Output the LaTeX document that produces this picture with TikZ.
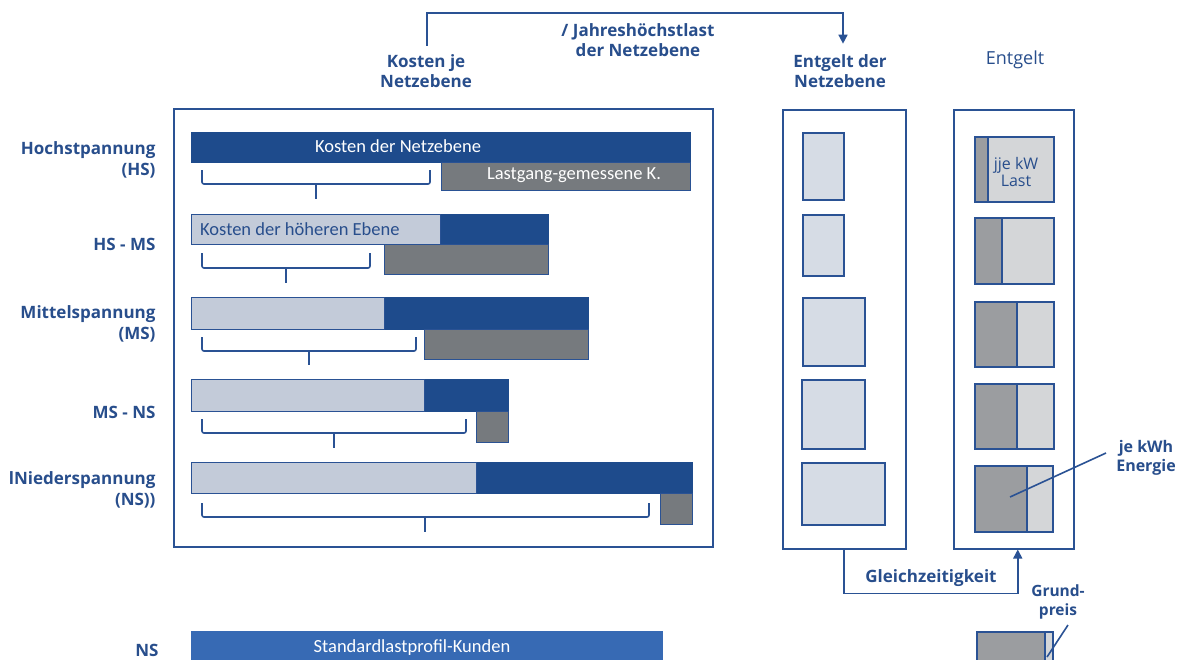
\documentclass[tikz,border=0pt]{standalone}
\usepackage{fontspec}
\setmainfont{Open Sans}
\newfontfamily\barfont{Carlito}
\usetikzlibrary{arrows.meta}
\definecolor{txtblue}{RGB}{40,78,140}
\definecolor{lineblue}{RGB}{42,82,148}
\definecolor{dkblue}{RGB}{30,75,140}
\definecolor{ltbar}{RGB}{195,203,217}
\definecolor{gybar}{RGB}{118,122,126}
\definecolor{midfill}{RGB}{214,220,229}
\definecolor{edark}{RGB}{155,157,160}
\definecolor{elight}{RGB}{212,214,216}
\definecolor{slp}{RGB}{55,106,180}
\tikzset{
  rbox/.style={draw=lineblue, line width=1.2pt, inner sep=0pt, anchor=north west},
  darkbar/.style={rbox, fill=dkblue, draw=dkblue},
  lightbar/.style={rbox, fill=ltbar},
  greybar/.style={rbox, fill=gybar},
  midbox/.style={rbox, fill=midfill, line width=1.6pt},
  edarkbox/.style={rbox, fill=edark, line width=1.6pt},
  elightbox/.style={rbox, fill=elight, line width=1.6pt},
  frame/.style={draw=lineblue, line width=1.5pt, inner sep=0pt, anchor=north west},
  bartext/.style={inner sep=0pt, text=white, font=\barfont\fontsize{18.5}{20}\selectfont},
  lbl/.style={text=txtblue, font=\fontsize{17}{20.5}\selectfont\bfseries, align=center},
  rowlbl/.style={lbl, align=right, anchor=east},
  smalllbl/.style={text=txtblue, font=\fontsize{16}{19}\selectfont\bfseries, align=center},
  bracket/.style={draw=lineblue, line width=1.6pt, rounded corners=2pt},
  conn/.style={draw=lineblue, line width=1.6pt},
}
\newcommand\brc[6]{\draw[bracket] (#1,#3) -- (#1,#4) -- (#2,#4) -- (#2,#3); \draw[bracket] (#5,#4) -- (#5,#6);}
\begin{document}
\begin{tikzpicture}[x=1pt,y=-1pt]
\clip (0,0) rectangle (1182,659);
\fill[white] (0,0) rectangle (1182,659);

% headers
\node[lbl] (kj) at (426,71) {Kosten je\\Netzebene};
\node[lbl] (jh) at (638,40) {/ Jahreshöchstlast\\der Netzebene};
\node[lbl] (en) at (840,71) {Entgelt der\\Netzebene};
\node[lbl, font=\fontsize{18}{20}\selectfont] (eg) at (1015,60) {Entgelt};

% frames
\node[frame, minimum width=539pt, minimum height=438pt] (lb) at (173,108) {};
\node[frame, minimum width=123pt, minimum height=439pt] (mb) at (782,109) {};
\node[frame, minimum width=120pt, minimum height=439pt] (rb) at (953,109) {};

% row labels
\node[rowlbl] (l1) at (159,160) {Hochstpannung\\(HS)};
\node[rowlbl] (l2) at (159,244) {HS - MS};
\node[rowlbl] (l3) at (159,324) {Mittelspannung\\(MS)};
\node[rowlbl] (l4) at (159,412) {MS - NS};
\node[rowlbl] (l5) at (159,490) {lNiederspannung\\(NS))};
\node[lbl] (l6) at (147,650) {NS};

% row 1
\node[darkbar, minimum width=499pt, minimum height=30pt] (d1) at (191,132) {};
\node[bartext] (t1) at (398,146) {Kosten der Netzebene};
\node[greybar, minimum width=249pt, minimum height=28pt] (g1) at (441,162) {};
\node[bartext] (t2) at (574,175) {Lastgang-gemessene K.};
\brc{202}{430}{170}{184}{316}{199}
% row 2
\node[darkbar, minimum width=108pt, minimum height=30pt] (d2) at (440,214) {};
\node[lightbar, minimum width=249pt, minimum height=30pt] (a2) at (191,214) {};
\node[bartext, text=txtblue, anchor=west] (t3) at (200,229) {Kosten der höheren Ebene};
\node[greybar, minimum width=164pt, minimum height=30pt] (g2) at (384,244) {};
\brc{202}{370}{253}{268}{286}{283}
% row 3
\node[darkbar, minimum width=204pt, minimum height=32pt] (d3) at (384,297) {};
\node[lightbar, minimum width=193pt, minimum height=32pt] (a3) at (191,297) {};
\node[greybar, minimum width=164pt, minimum height=30pt] (g3) at (424,329) {};
\brc{202}{416}{337}{351}{309}{365}
% row 4
\node[darkbar, minimum width=84pt, minimum height=32pt] (d4) at (424,379) {};
\node[lightbar, minimum width=233pt, minimum height=32pt] (a4) at (191,379) {};
\node[greybar, minimum width=32pt, minimum height=31pt] (g4) at (476,411) {};
\brc{202}{466}{419}{433}{334}{448}
% row 5
\node[darkbar, minimum width=216pt, minimum height=31pt] (d5) at (476,462) {};
\node[lightbar, minimum width=285pt, minimum height=31pt] (a5) at (191,462) {};
\node[greybar, minimum width=32pt, minimum height=31pt] (g5) at (660,493) {};
\brc{202}{649}{503}{517}{425}{532}

% Standardlastprofil
\node[rbox, fill=slp, draw=slp, minimum width=471pt, minimum height=36pt] (s1) at (191,631) {};
\node[bartext] (t4) at (412,648) {Standardlastprofil-Kunden};

% middle boxes
\node[midbox, minimum width=41pt, minimum height=67pt] (m1) at (802,132) {};
\node[midbox, minimum width=41pt, minimum height=61pt] (m2) at (802,214) {};
\node[midbox, minimum width=62pt, minimum height=68pt] (m3) at (802,297) {};
\node[midbox, minimum width=63pt, minimum height=69pt] (m4) at (801,379) {};
\node[midbox, minimum width=83pt, minimum height=62pt] (m5) at (801,462) {};

% right boxes
\node[elightbox, minimum width=79pt, minimum height=65pt] (e1) at (974,136) {};
\node[edarkbox, minimum width=13pt, minimum height=65pt] (f1) at (974,136) {};
\node[text=txtblue, font=\fontsize{16}{17}\selectfont, align=center, inner sep=0pt] (t5) at (1016,172) {jje kW\\Last};
\node[elightbox, minimum width=79pt, minimum height=66pt] (e2) at (974,217) {};
\node[edarkbox, minimum width=27pt, minimum height=66pt] (f2) at (974,217) {};
\node[elightbox, minimum width=79pt, minimum height=65pt] (e3) at (974,301) {};
\node[edarkbox, minimum width=42pt, minimum height=65pt] (f3) at (974,301) {};
\node[elightbox, minimum width=79pt, minimum height=65pt] (e4) at (974,383) {};
\node[edarkbox, minimum width=42pt, minimum height=65pt] (f4) at (974,383) {};
\node[elightbox, minimum width=78pt, minimum height=66pt] (e5) at (974,465) {};
\node[edarkbox, minimum width=52pt, minimum height=66pt] (f5) at (974,465) {};
\node[elightbox, minimum width=76pt, minimum height=40pt] (e6) at (976,631) {};
\node[edarkbox, minimum width=68pt, minimum height=40pt] (f6) at (976,631) {};

% labels right
\node[smalllbl] (kwh) at (1146,458) {je kWh\\Energie};
\node[smalllbl, font=\fontsize{15.5}{19}\selectfont\bfseries] (gp) at (1058,602) {Grund-\\preis};
\node[lbl] (gz) at (931,578) {Gleichzeitigkeit};

% connectors
\coordinate (ktop) at (427,13);
\draw[conn, -{Triangle[length=9pt,width=9pt]}] ([xshift=1pt,yshift=5pt]kj.north) -- ([xshift=1pt]kj.north |- ktop) -| ([xshift=3pt,yshift=7pt]en.north);
\draw[conn, -{Triangle[length=9pt,width=9pt]}] (mb.south) -- ([yshift=-44pt]mb.south) -| ([xshift=4pt]rb.south);
\coordinate (p5) at (1010,497);
\coordinate (q5) at (1106,453);
\draw[conn] (p5) -- (q5);
\coordinate (p6) at (1047,657);
\coordinate (q6) at (1068,625);
\draw[conn] (p6) -- (q6);
\end{tikzpicture}
\end{document}
